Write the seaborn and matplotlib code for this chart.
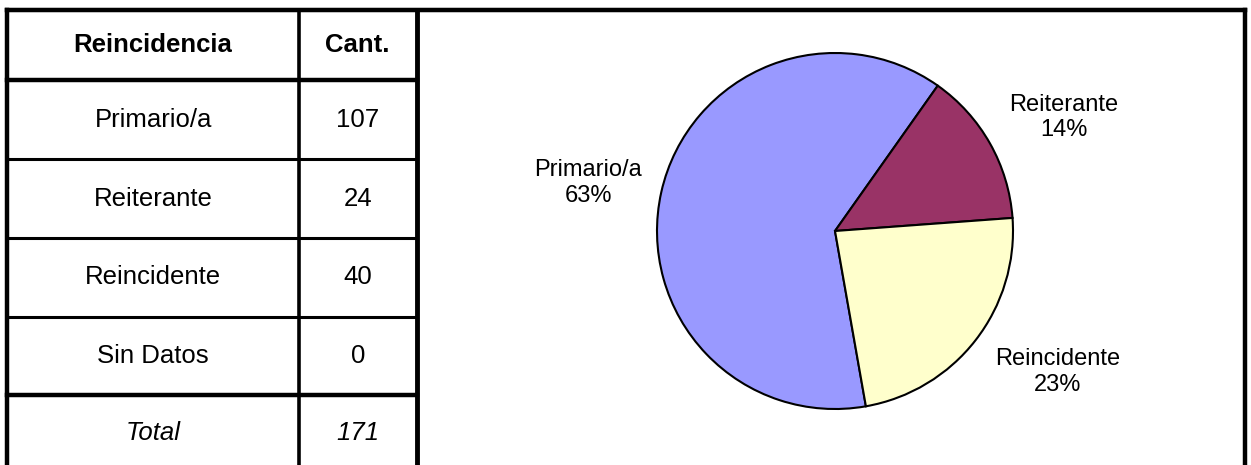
import numpy as np
import matplotlib
matplotlib.use("Agg")
import matplotlib.pyplot as plt
import seaborn as sns

# data
categories = ["Primario/a", "Reiterante", "Reincidente", "Sin Datos"]
counts = [107, 24, 40, 0]
header = ["Reincidencia", "Cant."]
total_label = "Total"

sns.set_theme(style="white")
plt.rcParams["font.family"] = ["Liberation Sans", "DejaVu Sans"]
plt.rcParams["text.color"] = "black"

# pie colours (classic office palette)
pie_colors = sns.color_palette(["#9999FF", "#993366", "#FFFFCC", "#FFFFFF"])

fig = plt.figure(figsize=(12.51, 4.65), dpi=100)
fig.patch.set_facecolor("white")

# ---- table / frame, drawn in pixel coordinates
ax = fig.add_axes([0, 0, 1, 1])
ax.set_xlim(0, 1251)
ax.set_ylim(465, 0)
ax.axis("off")

thick = 3.2
thin = 2.2
x_left, x_col, x_tab, x_right = 7.3, 299, 416.5, 1245
y_top = 10
row_lines = [80, 159.5, 238, 316.5, 394.5]
row_widths = [thick, thin, thin, thin, thick]

kw = dict(color="black", solid_capstyle="projecting")
ax.plot([x_left, x_right], [y_top, y_top], lw=4.5 / 1.389, **kw)
for y, w in zip(row_lines, row_widths):
    ax.plot([x_left, x_tab], [y, y], lw=w, **kw)
ax.plot([x_left, x_left], [y_top, 470], lw=thick, **kw)
ax.plot([x_col, x_col], [y_top, 470], lw=2.6, **kw)
ax.plot([x_tab, x_tab], [y_top, 470], lw=3.5, **kw)
ax.plot([x_right, x_right], [y_top, 470], lw=thick, **kw)

c1 = (x_left + x_col) / 2
c2 = (x_col + x_tab) / 2
fs_tab = 18.5
ax.text(c1, 45, header[0], ha="center", va="center", fontsize=fs_tab, fontweight="bold")
ax.text(c2, 45, header[1], ha="center", va="center", fontsize=fs_tab, fontweight="bold")
for i, (cat, n) in enumerate(zip(categories, counts)):
    yc = (row_lines[i] + row_lines[i + 1]) / 2
    ax.text(c1, yc, cat, ha="center", va="center", fontsize=fs_tab)
    ax.text(c2, yc, str(n), ha="center", va="center", fontsize=fs_tab)
ax.text(c1, 433, total_label, ha="center", va="center", fontsize=fs_tab, style="italic")
ax.text(c2, 433, str(sum(counts)), ha="center", va="center", fontsize=fs_tab, style="italic")

# ---- pie chart
cx, cy, r = 835, 231, 178
half = 1.5 * r
pax = fig.add_axes([(cx - half) / 1251, (465 - cy - half) / 465, 2 * half / 1251, 2 * half / 465])

vals = [c for c in counts if c > 0]
labs = [cat for cat, c in zip(categories, counts) if c > 0]
cols = [col for col, c in zip(pie_colors, counts) if c > 0]
total = sum(vals)
pct_labels = [f"{lab}\n{round(v / total * 100)}%" for lab, v in zip(labs, vals)]

wedges, texts = pax.pie(vals, colors=cols, startangle=280, counterclock=False,
                        radius=1, labels=pct_labels, labeldistance=1.42,
                        wedgeprops=dict(edgecolor="black", linewidth=1.5),
                        textprops=dict(fontsize=17, linespacing=1.2, color="black"))
pax.set_xlim(-1.5, 1.5)
pax.set_ylim(-1.5, 1.5)
pax.axis("off")

# nudge labels to where the reference places them (in radius units)
label_offsets = [(0.0, -0.04), (0.05, -0.06), (0.13, 0.08)]
for t, (dx, dy) in zip(texts, label_offsets):
    x, y = t.get_position()
    t.set_position((x + dx, y + dy))
    t.set_ha("center")
    t.set_va("center")

fig.savefig("out.png", dpi=100, facecolor="white")
